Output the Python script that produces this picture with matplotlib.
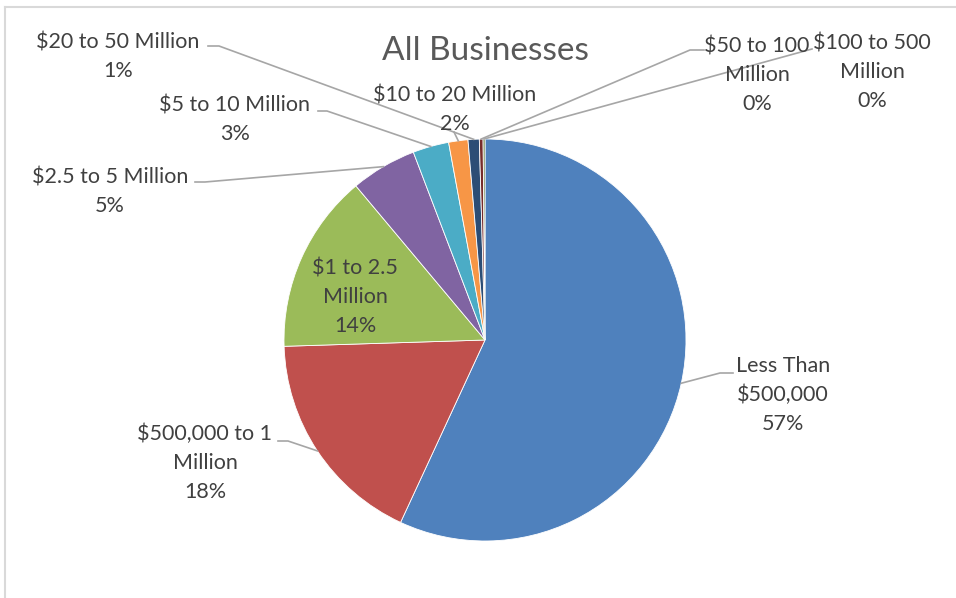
import numpy as np
import matplotlib
matplotlib.use('Agg')
import matplotlib.pyplot as plt

# --- Données ---
categories = ['Less Than $500,000', '$500,000 to 1 Million', '$1 to 2.5 Million',
              '$2.5 to 5 Million', '$5 to 10 Million', '$10 to 20 Million',
              '$20 to 50 Million', '$50 to 100 Million', '$100 to 500 Million']
shares = [56.9, 17.6, 14.4, 5.3, 2.9, 1.55, 0.9, 0.3, 0.15]
# libellés coupés sur plusieurs lignes comme dans Excel
wrapped = ['Less Than\n$500,000', '$500,000 to 1\nMillion', '$1 to 2.5\nMillion',
           '$2.5 to 5 Million', '$5 to 10 Million', '$10 to 20 Million',
           '$20 to 50 Million', '$50 to 100\nMillion', '$100 to 500\nMillion']
colors = ['#4F81BD', '#C0504D', '#9BBB59', '#8064A2', '#4BACC6', '#F79646',
          '#2C4D75', '#772C2A', '#5F7530']
title = 'All Businesses'

# --- Mise en page (pixels, origine en haut à gauche) ---
W, H = 956, 598
CX, CY, R = 485, 340, 201
# centre du texte, coude de la ligne de rappel, extrémité côté texte (None = pas de ligne)
label_pos = [(783, 395), (205, 463), (355, 297), (110, 192), (235, 120),
             (455, 110), (118, 57), (757, 75), (872, 72)]
leader_end = [(733, 373), (278, 441), None, (195, 182), (318, 111),
              (454, 132), (208, 46), (704, 50), (812, 49)]
leader_elbow = [(720, 373), (288, 441), None, (205, 182), (327, 111),
                (454, 132), (219, 46), (690, 50), (812, 49)]

TEXT = '#404040'
LINE = '#A6A6A6'
FONT = 'Lato'

plt.rcParams['font.family'] = [FONT, 'DejaVu Sans']

fig = plt.figure(figsize=(W / 100, H / 100), dpi=100)
ax = fig.add_axes([0, 0, 1, 1])


def fy(y):
    # conversion y pixel -> y données (axe vers le haut)
    return H - y


wedges, _ = ax.pie(shares, colors=colors, startangle=90, counterclock=False,
                   center=(CX, fy(CY)), radius=R, frame=True,
                   wedgeprops=dict(edgecolor='white', linewidth=0.6))

ax.set_xlim(0, W)
ax.set_ylim(0, H)
ax.set_aspect('auto')
ax.axis('off')

for i, w in enumerate(wedges):
    pct = f'{shares[i]:.0f}%'
    tx, ty = label_pos[i]
    ax.text(tx, fy(ty), wrapped[i] + '\n' + pct, ha='center', va='center',
            fontsize=15.5, color=TEXT, linespacing=1.55, parse_math=False)

    if leader_end[i] is None:
        continue
    # point milieu de l'arc de la part
    mid = np.deg2rad((w.theta1 + w.theta2) / 2)
    px = CX + R * np.cos(mid)
    py = fy(CY) + R * np.sin(mid)
    ex, ey = leader_end[i]
    kx, ky = leader_elbow[i]
    ax.plot([ex, kx, px], [fy(ey), fy(ky), py], color=LINE, lw=1.2,
            solid_joinstyle='miter', zorder=1)

ax.text(485, fy(51), title, ha='center', va='center', fontsize=24, color='#595959')

# bordure de la zone de graphique (coupée à droite et en bas)
ax.plot([5, 5], [fy(7), 0], color='#D9D9D9', lw=1.5, clip_on=False)
ax.plot([5, W], [fy(7), fy(7)], color='#D9D9D9', lw=1.5, clip_on=False)

plt.savefig('out.png', dpi=100)
plt.close()
